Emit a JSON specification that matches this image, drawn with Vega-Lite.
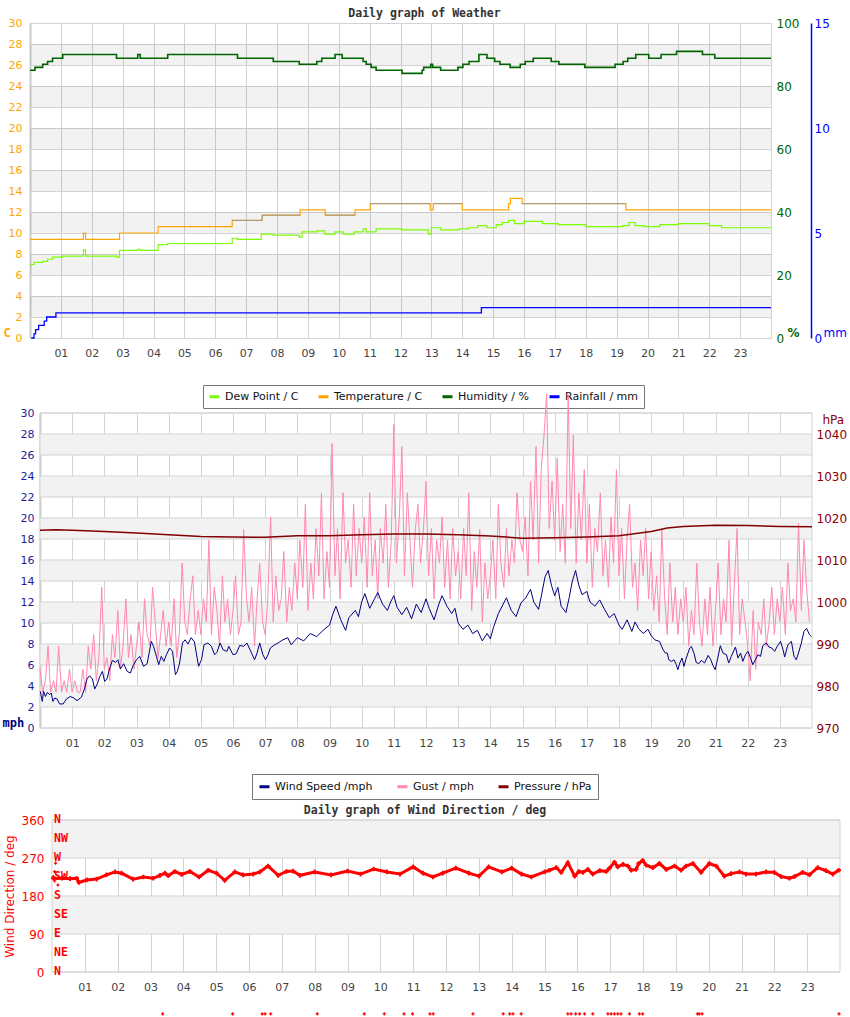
{
  "$schema": "https://vega.github.io/schema/vega-lite/v6.json",
  "padding": {"left": 2, "top": 7, "right": 0, "bottom": 0},
  "spacing": 0,
  "bounds": "flush",
  "resolve": {"scale": {"color": "independent", "x": "independent", "y": "independent"}, "legend": {"color": "independent"}},
  "config": {
    "font": "DejaVu Sans",
    "view": {"stroke": "#d3d3d3"},
    "axis": {"labelFont": "DejaVu Sans", "labelFontSize": 11, "grid": false, "ticks": false, "domain": false, "labelColor": "#444", "labelOverlap": false},
    "title": {"font": "DejaVu Sans Mono", "fontSize": 11.5, "fontWeight": "bold", "color": "#333", "offset": -2}
  },
  "datasets": {
    "bands1": [{"lo": 2, "hi": 4}, {"lo": 6, "hi": 8}, {"lo": 10, "hi": 12}, {"lo": 14, "hi": 16}, {"lo": 18, "hi": 20}, {"lo": 22, "hi": 24}, {"lo": 26, "hi": 28}],
    "grid30": [{"y":0},{"y":2},{"y":4},{"y":6},{"y":8},{"y":10},{"y":12},{"y":14},{"y":16},{"y":18},{"y":20},{"y":22},{"y":24},{"y":26},{"y":28},{"y":30}],
    "bands3": [{"lo": 90, "hi": 180}, {"lo": 270, "hi": 360}],
    "grid360": [{"y":0},{"y":90},{"y":180},{"y":270},{"y":360}],
    "compass": [{"d": 0, "t": "N"}, {"d": 45, "t": "NE"}, {"d": 90, "t": "E"}, {"d": 135, "t": "SE"}, {"d": 180, "t": "S"}, {"d": 225, "t": "SW"}, {"d": 270, "t": "W"}, {"d": 315, "t": "NW"}, {"d": 360, "t": "N"}],
    "hum": [{"h":0,"v":85.0},{"h":0.16,"v":85.9},{"h":0.41,"v":86.9},{"h":0.57,"v":87.8},{"h":0.73,"v":88.8},{"h":1.06,"v":90.0},{"h":2.80,"v":88.8},{"h":3.49,"v":90.0},{"h":3.57,"v":88.8},{"h":4.46,"v":90.0},{"h":6.72,"v":88.8},{"h":7.88,"v":87.8},{"h":8.72,"v":86.9},{"h":9.29,"v":87.8},{"h":9.45,"v":88.8},{"h":9.88,"v":90.0},{"h":10.11,"v":88.8},{"h":10.79,"v":87.8},{"h":10.89,"v":86.9},{"h":11.05,"v":85.9},{"h":11.21,"v":85.0},{"h":12.05,"v":84.0},{"h":12.70,"v":85.0},{"h":12.75,"v":85.9},{"h":12.98,"v":86.9},{"h":13.04,"v":85.9},{"h":13.30,"v":85.0},{"h":13.86,"v":85.9},{"h":14.02,"v":86.9},{"h":14.22,"v":87.8},{"h":14.54,"v":90.0},{"h":14.80,"v":88.8},{"h":15.05,"v":87.8},{"h":15.22,"v":86.9},{"h":15.55,"v":85.9},{"h":15.88,"v":86.9},{"h":16.04,"v":87.8},{"h":16.30,"v":88.8},{"h":16.88,"v":87.8},{"h":17.13,"v":86.9},{"h":17.97,"v":85.9},{"h":18.95,"v":86.9},{"h":19.21,"v":87.8},{"h":19.36,"v":88.8},{"h":19.62,"v":90.0},{"h":20.04,"v":88.8},{"h":20.44,"v":90.0},{"h":20.94,"v":91.0},{"h":21.78,"v":90.0},{"h":22.18,"v":88.8},{"h":24,"v":88.8}],
    "rain": [{"h":0.04,"v":0},{"h":0.13,"v":0.2},{"h":0.18,"v":0.4},{"h":0.28,"v":0.6},{"h":0.46,"v":0.8},{"h":0.54,"v":1.0},{"h":0.84,"v":1.2},{"h":14.62,"v":1.45},{"h":24,"v":1.45}],
    "temp": [{"h":0,"v":9.4},{"h":1.73,"v":10.0},{"h":1.80,"v":9.4},{"h":2.90,"v":10.0},{"h":4.15,"v":10.6},{"h":6.55,"v":11.2},{"h":7.52,"v":11.7},{"h":8.75,"v":12.2},{"h":9.56,"v":11.7},{"h":10.53,"v":12.2},{"h":11.02,"v":12.8},{"h":12.96,"v":12.2},{"h":13.06,"v":12.8},{"h":14.0,"v":12.2},{"h":15.5,"v":12.8},{"h":15.56,"v":13.3},{"h":15.94,"v":12.8},{"h":19.3,"v":12.2},{"h":24,"v":12.2}],
    "tempg": [{"h":6.55,"v":11.2,"s":"a"},{"h":7.52,"v":11.7,"s":"a"},{"h":8.75,"v":11.7,"s":"a"},{"h":9.56,"v":11.7,"s":"b"},{"h":10.53,"v":11.7,"s":"b"},{"h":11.02,"v":12.8,"s":"c"},{"h":12.96,"v":12.8,"s":"c"},{"h":13.06,"v":12.8,"s":"d"},{"h":14.0,"v":12.8,"s":"d"},{"h":15.94,"v":12.8,"s":"e"},{"h":19.3,"v":12.8,"s":"e"}],
    "dew": [{"h":0,"v":7.0},{"h":0.13,"v":7.2},{"h":0.41,"v":7.3},{"h":0.57,"v":7.5},{"h":0.73,"v":7.7},{"h":1.06,"v":7.8},{"h":1.73,"v":8.4},{"h":1.80,"v":7.8},{"h":2.80,"v":7.7},{"h":2.90,"v":8.35},{"h":3.49,"v":8.45},{"h":3.57,"v":8.35},{"h":4.15,"v":8.9},{"h":4.46,"v":9.0},{"h":6.55,"v":9.5},{"h":6.72,"v":9.4},{"h":7.49,"v":9.9},{"h":7.88,"v":9.8},{"h":8.72,"v":9.6},{"h":8.81,"v":10.1},{"h":9.29,"v":10.2},{"h":9.55,"v":9.9},{"h":9.88,"v":10.1},{"h":10.14,"v":9.9},{"h":10.5,"v":10.1},{"h":10.79,"v":10.4},{"h":10.89,"v":10.1},{"h":11.05,"v":10.1},{"h":11.21,"v":10.4},{"h":12.05,"v":10.3},{"h":12.9,"v":9.9},{"h":13.0,"v":10.5},{"h":13.3,"v":10.3},{"h":13.9,"v":10.4},{"h":14.2,"v":10.5},{"h":14.5,"v":10.7},{"h":14.8,"v":10.5},{"h":15.1,"v":10.8},{"h":15.3,"v":11.0},{"h":15.5,"v":11.2},{"h":15.7,"v":10.9},{"h":16.0,"v":11.1},{"h":16.6,"v":10.9},{"h":17.1,"v":10.8},{"h":18.0,"v":10.6},{"h":19.2,"v":10.7},{"h":19.4,"v":11.0},{"h":19.6,"v":10.7},{"h":19.9,"v":10.6},{"h":20.4,"v":10.8},{"h":21.0,"v":10.9},{"h":22.0,"v":10.7},{"h":22.4,"v":10.5},{"h":24,"v":10.5}],
    "pres": [{"h":0,"v":1017.1},{"h":0.5,"v":1017.2},{"h":1,"v":1017.1},{"h":2,"v":1016.8},{"h":3,"v":1016.4},{"h":4,"v":1016.0},{"h":5,"v":1015.6},{"h":6,"v":1015.5},{"h":7,"v":1015.4},{"h":8,"v":1015.8},{"h":9,"v":1015.8},{"h":10,"v":1016.0},{"h":11,"v":1016.2},{"h":12,"v":1016.2},{"h":13,"v":1016.0},{"h":14,"v":1015.7},{"h":15,"v":1015.2},{"h":16,"v":1015.3},{"h":17,"v":1015.5},{"h":18,"v":1015.8},{"h":19,"v":1016.8},{"h":19.5,"v":1017.6},{"h":20,"v":1018.0},{"h":21,"v":1018.3},{"h":22,"v":1018.2},{"h":23,"v":1018.0},{"h":24,"v":1017.9}],
    "wind": [{"h":0.01,"v":3.49},{"h":0.07,"v":2.53},{"h":0.11,"v":3.49},{"h":0.17,"v":3.0},{"h":0.23,"v":3.39},{"h":0.30,"v":3.17},{"h":0.35,"v":3.33},{"h":0.40,"v":2.53},{"h":0.46,"v":2.86},{"h":0.53,"v":2.76},{"h":0.61,"v":2.29},{"h":0.72,"v":2.29},{"h":0.82,"v":2.76},{"h":0.94,"v":3.0},{"h":1.05,"v":2.86},{"h":1.15,"v":2.6},{"h":1.29,"v":2.95},{"h":1.39,"v":3.81},{"h":1.46,"v":4.67},{"h":1.54,"v":4.98},{"h":1.63,"v":4.67},{"h":1.70,"v":3.71},{"h":1.77,"v":4.12},{"h":1.86,"v":4.91},{"h":1.94,"v":5.39},{"h":2.01,"v":4.44},{"h":2.08,"v":4.67},{"h":2.17,"v":5.71},{"h":2.25,"v":6.44},{"h":2.35,"v":6.25},{"h":2.42,"v":6.5},{"h":2.50,"v":5.62},{"h":2.60,"v":6.12},{"h":2.71,"v":5.39},{"h":2.81,"v":5.24},{"h":2.89,"v":5.93},{"h":3.0,"v":6.5},{"h":3.10,"v":6.82},{"h":3.22,"v":5.87},{"h":3.33,"v":6.12},{"h":3.46,"v":8.25},{"h":3.53,"v":7.77},{"h":3.62,"v":6.82},{"h":3.69,"v":6.03},{"h":3.77,"v":6.82},{"h":3.85,"v":6.34},{"h":3.93,"v":6.98},{"h":4.03,"v":7.62},{"h":4.12,"v":7.3},{"h":4.21,"v":5.08},{"h":4.27,"v":5.39},{"h":4.34,"v":6.19},{"h":4.43,"v":8.1},{"h":4.51,"v":8.4},{"h":4.6,"v":8.0},{"h":4.7,"v":8.6},{"h":4.8,"v":8.2},{"h":4.93,"v":5.87},{"h":5.02,"v":6.5},{"h":5.10,"v":7.93},{"h":5.22,"v":8.1},{"h":5.33,"v":7.77},{"h":5.43,"v":6.98},{"h":5.50,"v":7.2},{"h":5.6,"v":8.1},{"h":5.69,"v":7.46},{"h":5.81,"v":7.3},{"h":5.87,"v":7.77},{"h":6.0,"v":6.98},{"h":6.1,"v":7.07},{"h":6.21,"v":7.87},{"h":6.33,"v":7.77},{"h":6.43,"v":8.1},{"h":6.52,"v":7.52},{"h":6.60,"v":6.98},{"h":6.67,"v":6.5},{"h":6.75,"v":7.14},{"h":6.83,"v":8.1},{"h":6.93,"v":6.98},{"h":7.01,"v":6.5},{"h":7.09,"v":6.98},{"h":7.16,"v":7.62},{"h":7.30,"v":7.93},{"h":7.40,"v":8.1},{"h":7.55,"v":8.4},{"h":7.7,"v":8.6},{"h":7.81,"v":7.93},{"h":8.0,"v":8.6},{"h":8.2,"v":8.3},{"h":8.4,"v":9.0},{"h":8.6,"v":8.7},{"h":8.8,"v":9.3},{"h":9.0,"v":9.8},{"h":9.1,"v":10.8},{"h":9.2,"v":11.6},{"h":9.35,"v":10.3},{"h":9.5,"v":9.3},{"h":9.6,"v":10.5},{"h":9.8,"v":11.2},{"h":9.9,"v":10.6},{"h":10.0,"v":12.0},{"h":10.1,"v":12.8},{"h":10.25,"v":11.4},{"h":10.4,"v":12.3},{"h":10.5,"v":12.9},{"h":10.65,"v":11.8},{"h":10.8,"v":11.2},{"h":10.9,"v":12.0},{"h":11.0,"v":12.6},{"h":11.1,"v":11.5},{"h":11.25,"v":10.8},{"h":11.4,"v":11.5},{"h":11.55,"v":10.4},{"h":11.7,"v":11.8},{"h":11.85,"v":11.0},{"h":12.0,"v":12.3},{"h":12.1,"v":11.4},{"h":12.25,"v":10.3},{"h":12.4,"v":11.8},{"h":12.5,"v":12.6},{"h":12.65,"v":11.6},{"h":12.8,"v":10.9},{"h":12.9,"v":11.4},{"h":13.0,"v":10.0},{"h":13.15,"v":9.4},{"h":13.3,"v":9.8},{"h":13.45,"v":9.0},{"h":13.6,"v":9.3},{"h":13.75,"v":8.3},{"h":13.9,"v":9.0},{"h":14.0,"v":8.5},{"h":14.1,"v":9.6},{"h":14.25,"v":10.9},{"h":14.4,"v":11.8},{"h":14.5,"v":12.4},{"h":14.65,"v":11.2},{"h":14.8,"v":10.6},{"h":14.95,"v":11.9},{"h":15.1,"v":12.4},{"h":15.25,"v":13.2},{"h":15.35,"v":12.0},{"h":15.5,"v":11.3},{"h":15.6,"v":12.8},{"h":15.7,"v":14.4},{"h":15.8,"v":15.0},{"h":15.9,"v":13.6},{"h":16.0,"v":12.6},{"h":16.1,"v":13.4},{"h":16.2,"v":11.6},{"h":16.35,"v":11.0},{"h":16.45,"v":12.4},{"h":16.55,"v":14.0},{"h":16.65,"v":15.0},{"h":16.75,"v":13.6},{"h":16.85,"v":12.7},{"h":17.0,"v":13.0},{"h":17.1,"v":12.0},{"h":17.25,"v":11.6},{"h":17.4,"v":12.2},{"h":17.55,"v":11.3},{"h":17.7,"v":10.5},{"h":17.85,"v":10.9},{"h":18.0,"v":9.8},{"h":18.1,"v":9.4},{"h":18.25,"v":10.3},{"h":18.4,"v":9.2},{"h":18.5,"v":10.1},{"h":18.6,"v":9.5},{"h":18.75,"v":9.0},{"h":18.9,"v":9.4},{"h":19.0,"v":8.8},{"h":19.11,"v":8.4},{"h":19.26,"v":8.25},{"h":19.37,"v":7.46},{"h":19.44,"v":7.14},{"h":19.50,"v":7.14},{"h":19.55,"v":6.5},{"h":19.63,"v":6.34},{"h":19.71,"v":6.5},{"h":19.78,"v":6.03},{"h":19.83,"v":5.55},{"h":19.89,"v":6.19},{"h":19.96,"v":6.66},{"h":20.02,"v":5.87},{"h":20.09,"v":6.66},{"h":20.2,"v":7.62},{"h":20.25,"v":7.77},{"h":20.33,"v":7.14},{"h":20.40,"v":6.25},{"h":20.48,"v":6.12},{"h":20.56,"v":6.44},{"h":20.66,"v":6.19},{"h":20.77,"v":6.91},{"h":20.85,"v":6.53},{"h":20.92,"v":5.96},{"h":20.99,"v":5.55},{"h":21.07,"v":6.66},{"h":21.15,"v":7.84},{"h":21.23,"v":7.14},{"h":21.34,"v":6.98},{"h":21.41,"v":6.19},{"h":21.49,"v":6.82},{"h":21.62,"v":7.71},{"h":21.70,"v":6.66},{"h":21.78,"v":7.14},{"h":21.85,"v":6.34},{"h":21.93,"v":6.98},{"h":22.01,"v":7.3},{"h":22.09,"v":6.66},{"h":22.16,"v":6.03},{"h":22.24,"v":6.5},{"h":22.32,"v":6.98},{"h":22.40,"v":6.82},{"h":22.47,"v":7.84},{"h":22.58,"v":8.1},{"h":22.66,"v":7.71},{"h":22.75,"v":7.62},{"h":22.84,"v":7.3},{"h":22.92,"v":7.78},{"h":23.02,"v":8.25},{"h":23.10,"v":7.46},{"h":23.15,"v":6.76},{"h":23.25,"v":7.93},{"h":23.36,"v":8.25},{"h":23.44,"v":6.82},{"h":23.51,"v":6.5},{"h":23.58,"v":7.14},{"h":23.67,"v":8.1},{"h":23.75,"v":9.2},{"h":23.83,"v":9.5},{"h":23.92,"v":8.9},{"h":23.98,"v":8.7}],
    "gust": [
      {"h":0,"v":5.6},{"h":0.08,"v":3.4},{"h":0.17,"v":4.5},{"h":0.25,"v":7.8},{"h":0.33,"v":3.4},{"h":0.42,"v":4.5},{"h":0.5,"v":3.4},{"h":0.58,"v":7.8},{"h":0.67,"v":3.4},{"h":0.75,"v":4.5},{"h":0.83,"v":3.4},{"h":0.92,"v":5.6},
      {"h":1,"v":3.4},{"h":1.08,"v":4.5},{"h":1.17,"v":3.4},{"h":1.25,"v":3.4},{"h":1.33,"v":5.6},{"h":1.42,"v":3.4},{"h":1.5,"v":7.8},{"h":1.58,"v":5.6},{"h":1.67,"v":8.9},{"h":1.75,"v":4.5},{"h":1.83,"v":6.7},{"h":1.92,"v":13.4},
      {"h":2,"v":5.6},{"h":2.08,"v":6.7},{"h":2.17,"v":4.5},{"h":2.25,"v":8.9},{"h":2.33,"v":6.7},{"h":2.42,"v":11.2},{"h":2.5,"v":5.6},{"h":2.58,"v":7.8},{"h":2.67,"v":12.3},{"h":2.75,"v":6.7},{"h":2.83,"v":8.9},{"h":2.92,"v":5.6},
      {"h":3,"v":7.8},{"h":3.08,"v":10.1},{"h":3.17,"v":6.7},{"h":3.25,"v":12.3},{"h":3.33,"v":8.9},{"h":3.42,"v":7.8},{"h":3.5,"v":13.4},{"h":3.58,"v":10.1},{"h":3.67,"v":6.7},{"h":3.75,"v":8.9},{"h":3.83,"v":11.2},{"h":3.92,"v":7.8},
      {"h":4,"v":10.1},{"h":4.08,"v":7.8},{"h":4.17,"v":12.3},{"h":4.25,"v":6.7},{"h":4.33,"v":8.9},{"h":4.42,"v":15.7},{"h":4.5,"v":10.1},{"h":4.58,"v":8.9},{"h":4.67,"v":12.3},{"h":4.75,"v":14.5},{"h":4.83,"v":8.9},{"h":4.92,"v":11.2},
      {"h":5,"v":8.9},{"h":5.08,"v":12.3},{"h":5.17,"v":10.1},{"h":5.25,"v":17.9},{"h":5.33,"v":8.9},{"h":5.42,"v":13.4},{"h":5.5,"v":11.2},{"h":5.58,"v":7.8},{"h":5.67,"v":14.5},{"h":5.75,"v":10.1},{"h":5.83,"v":12.3},{"h":5.92,"v":8.9},
      {"h":6,"v":11.2},{"h":6.08,"v":14.5},{"h":6.17,"v":8.9},{"h":6.25,"v":10.1},{"h":6.33,"v":18.9},{"h":6.42,"v":12.3},{"h":6.5,"v":10.1},{"h":6.58,"v":13.4},{"h":6.67,"v":7.8},{"h":6.75,"v":12.3},{"h":6.83,"v":15.7},{"h":6.92,"v":10.1},
      {"h":7,"v":8.9},{"h":7.08,"v":12.3},{"h":7.17,"v":20.1},{"h":7.25,"v":10.1},{"h":7.33,"v":14.5},{"h":7.42,"v":11.2},{"h":7.5,"v":12.3},{"h":7.58,"v":16.8},{"h":7.67,"v":10.1},{"h":7.75,"v":13.4},{"h":7.83,"v":11.2},{"h":7.92,"v":15.7},
      {"h":8,"v":12.3},{"h":8.08,"v":17.9},{"h":8.17,"v":13.4},{"h":8.25,"v":21.3},{"h":8.33,"v":11.2},{"h":8.42,"v":15.7},{"h":8.5,"v":12.3},{"h":8.58,"v":19.0},{"h":8.67,"v":14.5},{"h":8.75,"v":22.4},{"h":8.83,"v":12.3},{"h":8.92,"v":16.8},
      {"h":9,"v":13.4},{"h":9.08,"v":27.1},{"h":9.17,"v":14.5},{"h":9.25,"v":19.0},{"h":9.33,"v":12.3},{"h":9.42,"v":22.4},{"h":9.5,"v":15.7},{"h":9.58,"v":17.9},{"h":9.67,"v":13.4},{"h":9.75,"v":21.3},{"h":9.83,"v":14.5},{"h":9.92,"v":19.0},
      {"h":10,"v":15.7},{"h":10.08,"v":20.1},{"h":10.17,"v":13.4},{"h":10.25,"v":22.4},{"h":10.33,"v":14.5},{"h":10.42,"v":17.9},{"h":10.5,"v":12.3},{"h":10.58,"v":19.0},{"h":10.67,"v":15.7},{"h":10.75,"v":21.3},{"h":10.83,"v":13.4},{"h":10.92,"v":17.9},
      {"h":11,"v":28.9},{"h":11.08,"v":15.7},{"h":11.17,"v":20.1},{"h":11.25,"v":26.8},{"h":11.33,"v":14.5},{"h":11.42,"v":22.4},{"h":11.5,"v":17.9},{"h":11.58,"v":13.4},{"h":11.67,"v":19.0},{"h":11.75,"v":21.3},{"h":11.83,"v":15.7},{"h":11.92,"v":18.9},
      {"h":12,"v":23.5},{"h":12.08,"v":14.5},{"h":12.17,"v":19.0},{"h":12.25,"v":12.3},{"h":12.33,"v":17.9},{"h":12.42,"v":15.7},{"h":12.5,"v":20.1},{"h":12.58,"v":13.4},{"h":12.67,"v":17.9},{"h":12.75,"v":12.3},{"h":12.83,"v":19.0},{"h":12.92,"v":14.5},
      {"h":13,"v":16.8},{"h":13.08,"v":12.3},{"h":13.17,"v":19.0},{"h":13.25,"v":14.5},{"h":13.33,"v":22.4},{"h":13.42,"v":11.2},{"h":13.5,"v":16.8},{"h":13.58,"v":13.4},{"h":13.67,"v":18.9},{"h":13.75,"v":10.1},{"h":13.83,"v":15.7},{"h":13.92,"v":12.3},
      {"h":14,"v":14.5},{"h":14.08,"v":17.9},{"h":14.17,"v":12.3},{"h":14.25,"v":21.3},{"h":14.33,"v":15.7},{"h":14.42,"v":13.4},{"h":14.5,"v":19.0},{"h":14.58,"v":14.5},{"h":14.67,"v":17.9},{"h":14.75,"v":15.7},{"h":14.83,"v":22.4},{"h":14.92,"v":17.9},
      {"h":15,"v":16.8},{"h":15.08,"v":20.1},{"h":15.17,"v":14.5},{"h":15.25,"v":23.5},{"h":15.33,"v":17.9},{"h":15.42,"v":26.8},{"h":15.5,"v":15.7},{"h":15.58,"v":24.6},{"h":15.67,"v":27.9},{"h":15.75,"v":31.8},{"h":15.83,"v":19.0},{"h":15.92,"v":23.5},
      {"h":16,"v":17.9},{"h":16.08,"v":25.7},{"h":16.17,"v":16.8},{"h":16.25,"v":21.3},{"h":16.33,"v":15.7},{"h":16.42,"v":31.8},{"h":16.5,"v":19.0},{"h":16.58,"v":27.9},{"h":16.67,"v":15.7},{"h":16.75,"v":22.4},{"h":16.83,"v":17.9},{"h":16.92,"v":24.6},
      {"h":17,"v":15.7},{"h":17.08,"v":21.3},{"h":17.17,"v":13.4},{"h":17.25,"v":19.0},{"h":17.33,"v":16.8},{"h":17.42,"v":22.4},{"h":17.5,"v":14.5},{"h":17.58,"v":17.9},{"h":17.67,"v":13.4},{"h":17.75,"v":20.1},{"h":17.83,"v":15.7},{"h":17.92,"v":24.6},
      {"h":18,"v":14.5},{"h":18.08,"v":19.0},{"h":18.17,"v":12.3},{"h":18.25,"v":17.9},{"h":18.33,"v":21.3},{"h":18.42,"v":13.4},{"h":18.5,"v":15.7},{"h":18.58,"v":11.2},{"h":18.67,"v":17.9},{"h":18.75,"v":14.5},{"h":18.83,"v":19.0},{"h":18.92,"v":12.3},
      {"h":19,"v":16.8},{"h":19.08,"v":11.2},{"h":19.17,"v":14.5},{"h":19.25,"v":10.1},{"h":19.33,"v":18.9},{"h":19.42,"v":12.3},{"h":19.5,"v":8.9},{"h":19.58,"v":15.7},{"h":19.67,"v":10.1},{"h":19.75,"v":13.4},{"h":19.83,"v":8.9},{"h":19.92,"v":12.3},
      {"h":20,"v":10.1},{"h":20.08,"v":13.4},{"h":20.17,"v":7.8},{"h":20.25,"v":11.2},{"h":20.33,"v":8.9},{"h":20.42,"v":15.7},{"h":20.5,"v":10.1},{"h":20.58,"v":7.8},{"h":20.67,"v":12.3},{"h":20.75,"v":8.9},{"h":20.83,"v":13.4},{"h":20.92,"v":7.8},
      {"h":21,"v":11.2},{"h":21.08,"v":15.7},{"h":21.17,"v":8.9},{"h":21.25,"v":12.3},{"h":21.33,"v":10.1},{"h":21.42,"v":17.9},{"h":21.5,"v":7.8},{"h":21.58,"v":13.4},{"h":21.67,"v":19.0},{"h":21.75,"v":8.9},{"h":21.83,"v":12.3},{"h":21.92,"v":10.1},
      {"h":22,"v":7.8},{"h":22.08,"v":4.5},{"h":22.17,"v":11.2},{"h":22.25,"v":5.6},{"h":22.33,"v":10.1},{"h":22.42,"v":8.9},{"h":22.5,"v":12.3},{"h":22.58,"v":7.8},{"h":22.67,"v":10.1},{"h":22.75,"v":13.4},{"h":22.83,"v":8.9},{"h":22.92,"v":12.3},
      {"h":23,"v":10.1},{"h":23.08,"v":13.4},{"h":23.17,"v":8.9},{"h":23.25,"v":15.7},{"h":23.33,"v":11.2},{"h":23.42,"v":12.3},{"h":23.5,"v":10.1},{"h":23.58,"v":19.5},{"h":23.67,"v":11.2},{"h":23.75,"v":17.9},{"h":23.83,"v":13.4},{"h":23.92,"v":10.1}],
    "dir": [{"h":0.04,"v":222},{"h":0.3,"v":222},{"h":0.55,"v":221},{"h":0.75,"v":222},{"h":0.82,"v":212},{"h":1.06,"v":218},{"h":1.36,"v":220},{"h":1.66,"v":230},{"h":1.92,"v":237},{"h":2.12,"v":234},{"h":2.47,"v":220},{"h":2.78,"v":225},{"h":3.08,"v":222},{"h":3.29,"v":229},{"h":3.44,"v":234},{"h":3.54,"v":228},{"h":3.74,"v":238},{"h":3.95,"v":231},{"h":4.20,"v":238},{"h":4.48,"v":225},{"h":4.76,"v":241},{"h":5.01,"v":234},{"h":5.26,"v":217},{"h":5.57,"v":237},{"h":5.82,"v":230},{"h":6.13,"v":232},{"h":6.33,"v":237},{"h":6.58,"v":251},{"h":6.89,"v":229},{"h":7.14,"v":238},{"h":7.34,"v":239},{"h":7.55,"v":229},{"h":8.0,"v":237},{"h":8.5,"v":230},{"h":9.0,"v":239},{"h":9.4,"v":232},{"h":9.8,"v":244},{"h":10.2,"v":237},{"h":10.6,"v":232},{"h":11.0,"v":249},{"h":11.3,"v":234},{"h":11.6,"v":225},{"h":11.9,"v":234},{"h":12.3,"v":246},{"h":12.7,"v":234},{"h":13.0,"v":227},{"h":13.3,"v":249},{"h":13.7,"v":237},{"h":14.0,"v":246},{"h":14.3,"v":232},{"h":14.6,"v":225},{"h":15.0,"v":237},{"h":15.15,"v":241},{"h":15.36,"v":247},{"h":15.51,"v":236},{"h":15.71,"v":259},{"h":15.92,"v":227},{"h":16.05,"v":238},{"h":16.17,"v":236},{"h":16.32,"v":243},{"h":16.47,"v":232},{"h":16.68,"v":240},{"h":16.88,"v":238},{"h":16.98,"v":246},{"h":17.13,"v":260},{"h":17.23,"v":249},{"h":17.39,"v":255},{"h":17.54,"v":251},{"h":17.64,"v":241},{"h":17.79,"v":243},{"h":17.87,"v":257},{"h":17.99,"v":264},{"h":18.10,"v":253},{"h":18.30,"v":247},{"h":18.50,"v":257},{"h":18.71,"v":243},{"h":18.96,"v":251},{"h":19.16,"v":241},{"h":19.31,"v":251},{"h":19.52,"v":257},{"h":19.77,"v":236},{"h":20.02,"v":257},{"h":20.23,"v":251},{"h":20.48,"v":227},{"h":20.68,"v":233},{"h":20.94,"v":237},{"h":21.14,"v":232},{"h":21.44,"v":232},{"h":21.75,"v":237},{"h":22.00,"v":236},{"h":22.21,"v":226},{"h":22.46,"v":222},{"h":22.61,"v":226},{"h":22.86,"v":236},{"h":23.07,"v":230},{"h":23.32,"v":247},{"h":23.57,"v":240},{"h":23.78,"v":232},{"h":23.96,"v":241}],
    "dirx": [{"h":3.37,"v":-99},{"h":5.50,"v":-99},{"h":6.40,"v":-99},{"h":6.49,"v":-99},{"h":6.66,"v":-99},{"h":8.08,"v":-99},{"h":9.51,"v":-99},{"h":10.12,"v":-99},{"h":10.72,"v":-99},{"h":10.98,"v":-99},{"h":11.51,"v":-99},{"h":11.61,"v":-99},{"h":12.82,"v":-99},{"h":13.74,"v":-99},{"h":13.94,"v":-99},{"h":14.04,"v":-99},{"h":14.29,"v":-99},{"h":15.71,"v":-99},{"h":15.81,"v":-99},{"h":15.95,"v":-99},{"h":16.07,"v":-99},{"h":16.22,"v":-99},{"h":16.47,"v":-99},{"h":16.93,"v":-99},{"h":17.03,"v":-99},{"h":17.13,"v":-99},{"h":17.23,"v":-99},{"h":17.33,"v":-99},{"h":17.59,"v":-99},{"h":17.89,"v":-99},{"h":17.99,"v":-99},{"h":19.66,"v":-99},{"h":19.71,"v":-99},{"h":19.80,"v":-99},{"h":23.97,"v":-99},{"h":0.11,"v":258},{"h":0.08,"v":238},{"h":0.04,"v":226},{"h":0.08,"v":216},{"h":0.18,"v":206}]
  },
  "vconcat": [
    {
      "width": 741, "height": 315,
      "title": {"text": "Daily graph of Weather", "dx": 24},
      "resolve": {"scale": {"y": "independent"}},
      "layer": [
        {
          "layer": [
            {"data": {"name": "bands1"}, "mark": {"type": "rect", "fill": "#000", "fillOpacity": 0.05},
             "encoding": {
               "y": {"field": "lo", "type": "quantitative", "scale": {"domain": [0, 30], "nice": false, "zero": false},
                     "axis": {"orient": "left", "values": [0,2,4,6,8,10,12,14,16,18,20,22,24,26,28,30], "format": "d", "tickCount": 100, "labelOverlap": false, "grid": true, "gridColor": "#d3d3d3", "domain": true, "domainColor": "#cccccc", "domainWidth": 2, "labelColor": "#ffa500", "labelPadding": 8, "title": "C", "titleAngle": 0, "titleColor": "#ffa500", "titleFont": "DejaVu Sans Mono", "titleFontWeight": "bold", "titleFontSize": 12, "titleX": -27, "titleY": 313, "titleAlign": "left", "titleBaseline": "alphabetic"}},
               "y2": {"field": "hi"}}},
            {"data": {"name": "dew"}, "mark": {"type": "line", "interpolate": "step-after", "strokeWidth": 1.2},
             "encoding": {
               "x": {"field": "h", "type": "quantitative", "scale": {"domain": [0, 24], "nice": false, "zero": false}, "title": null,
                     "axis": {"values": [1,2,3,4,5,6,7,8,9,10,11,12,13,14,15,16,17,18,19,20,21,22,23], "tickCount": 100, "labelOverlap": false, "labelExpr": "datum.value < 10 ? '0' + datum.value : '' + datum.value", "grid": true, "gridColor": "#d3d3d3", "labelPadding": 9, "labelColor": "#444", "title": null}},
               "y": {"field": "v", "type": "quantitative"},
               "color": {"datum": "Dew Point / C", "type": "nominal",
                         "scale": {"domain": ["Dew Point / C", "Temperature / C", "Humidity / %", "Rainfall / mm"], "range": ["#7cfc00", "#ffa500", "#006400", "#0000ff"]},
                         "legend": {"orient": "none", "legendX": 173, "legendY": 362, "direction": "horizontal", "title": null, "symbolType": "stroke", "symbolStrokeWidth": 3, "symbolSize": 100, "strokeColor": "#777", "fillColor": "white", "padding": 5, "labelFontSize": 11, "labelFont": "DejaVu Sans", "labelColor": "#111", "columnPadding": 13}}}},
            {"data": {"name": "temp"}, "mark": {"type": "line", "interpolate": "step-after", "strokeWidth": 1.2},
             "encoding": {
               "x": {"field": "h", "type": "quantitative", "title": null},
               "y": {"field": "v", "type": "quantitative"},
               "color": {"datum": "Temperature / C", "type": "nominal"}}},
            {"data": {"name": "tempg"}, "mark": {"type": "line", "interpolate": "step-after", "strokeWidth": 1, "color": "#9a9a9a"},
             "encoding": {
               "x": {"field": "h", "type": "quantitative", "title": null},
               "y": {"field": "v", "type": "quantitative"},
               "detail": {"field": "s"}}}
          ]
        },
        {"data": {"name": "hum"}, "mark": {"type": "line", "interpolate": "step-after", "strokeWidth": 1.6},
         "encoding": {
           "x": {"field": "h", "type": "quantitative", "title": null},
           "y": {"field": "v", "type": "quantitative", "scale": {"domain": [0, 100], "nice": false, "zero": false},
                 "axis": {"orient": "right", "values": [0,20,40,60,80,100], "format": "d", "tickCount": 100, "labelOverlap": false, "labelColor": "#006400", "labelPadding": 5, "labelFontSize": 12, "title": "%", "titleAngle": 0, "titleColor": "#006400", "titleFontWeight": "bold", "titleFontSize": 12, "titleX": 16, "titleY": 313, "titleAlign": "left", "titleBaseline": "alphabetic"}},
           "color": {"datum": "Humidity / %", "type": "nominal"}}},
        {"data": {"name": "rain"}, "mark": {"type": "line", "interpolate": "step-after", "strokeWidth": 1.3},
         "encoding": {
           "x": {"field": "h", "type": "quantitative", "title": null},
           "y": {"field": "v", "type": "quantitative", "scale": {"domain": [0, 15], "nice": false, "zero": false},
                 "axis": {"orient": "right", "offset": 40, "values": [0,5,10,15], "format": "d", "tickCount": 100, "labelOverlap": false, "domain": true, "domainColor": "#0000ff", "domainWidth": 1.5, "labelColor": "#0000ff", "labelPadding": 3, "labelFontSize": 12, "title": "mm", "titleAngle": 0, "titleColor": "#0000ff", "titleFontWeight": "normal", "titleFontSize": 12, "titleX": 12, "titleY": 313, "titleAlign": "left", "titleBaseline": "alphabetic"}},
           "color": {"datum": "Rainfall / mm", "type": "nominal"}}}
      ]
    },
    {"width": 1, "height": 75, "data": {"values": [{}]}, "mark": {"type": "point", "opacity": 0}, "view": {"stroke": null}},
    {
      "width": 782, "height": 315,
      "view": {"stroke": null},
      "resolve": {"scale": {"y": "independent"}},
      "layer": [
        {
          "layer": [
            {"data": {"name": "bands1"}, "mark": {"type": "rect", "fill": "#f2f2f2"},
             "encoding": {
               "x": {"datum": 0, "type": "quantitative"},
               "x2": {"datum": 24},
               "y": {"field": "lo", "type": "quantitative", "scale": {"domain": [0, 30], "nice": false, "zero": false},
                     "axis": {"orient": "left", "offset": -10, "values": [0,2,4,6,8,10,12,14,16,18,20,22,24,26,28,30], "format": "d", "tickCount": 100, "labelOverlap": false, "domain": true, "domainColor": "#cccccc", "domainWidth": 2, "labelColor": "#1e1e96", "labelPadding": 6, "title": "mph", "titleAngle": 0, "titleColor": "#000080", "titleFont": "DejaVu Sans Mono", "titleFontWeight": "bold", "titleFontSize": 12, "titleX": -38, "titleY": 313, "titleAlign": "left", "titleBaseline": "alphabetic"}},
               "y2": {"field": "hi"}}},
            {"data": {"name": "grid30"}, "mark": {"type": "rule", "color": "#d3d3d3", "strokeWidth": 1},
             "encoding": {
               "x": {"datum": 0, "type": "quantitative"},
               "x2": {"datum": 24},
               "y": {"field": "y", "type": "quantitative"}}},
            {"data": {"values": [{}]}, "mark": {"type": "rect", "fill": null, "stroke": "#d3d3d3", "strokeWidth": 1},
             "encoding": {
               "x": {"datum": 0, "type": "quantitative"},
               "x2": {"datum": 24},
               "y": {"datum": 0, "type": "quantitative"},
               "y2": {"datum": 30}}},
            {"data": {"name": "gust"}, "mark": {"type": "line", "strokeWidth": 1, "clip": false},
             "encoding": {
               "x": {"field": "h", "type": "quantitative", "scale": {"domain": [0, 24], "nice": false, "zero": false, "rangeMin": 10}, "title": null,
                     "axis": {"values": [1,2,3,4,5,6,7,8,9,10,11,12,13,14,15,16,17,18,19,20,21,22,23], "tickCount": 100, "labelOverlap": false, "labelExpr": "datum.value < 10 ? '0' + datum.value : '' + datum.value", "grid": true, "gridColor": "#d3d3d3", "labelPadding": 9, "labelColor": "#444", "title": null}},
               "y": {"field": "v", "type": "quantitative"},
               "color": {"datum": "Gust / mph", "type": "nominal",
                         "scale": {"domain": ["Wind Speed /mph", "Gust / mph", "Pressure / hPa"], "range": ["#000080", "#ff88b0", "#800000"]},
                         "legend": {"orient": "none", "legendX": 222, "legendY": 361, "direction": "horizontal", "title": null, "symbolType": "stroke", "symbolStrokeWidth": 3, "symbolSize": 100, "strokeColor": "#777", "fillColor": "white", "padding": 6, "labelFontSize": 11, "labelFont": "DejaVu Sans", "labelColor": "#111", "columnPadding": 18}}}},
            {"data": {"name": "wind"}, "mark": {"type": "line", "strokeWidth": 1},
             "encoding": {
               "x": {"field": "h", "type": "quantitative", "title": null},
               "y": {"field": "v", "type": "quantitative"},
               "color": {"datum": "Wind Speed /mph", "type": "nominal"}}}
          ]
        },
        {"data": {"name": "pres"}, "mark": {"type": "line", "strokeWidth": 1.5},
         "encoding": {
           "x": {"field": "h", "type": "quantitative", "title": null},
           "y": {"field": "v", "type": "quantitative", "scale": {"domain": [970, 1045], "nice": false, "zero": false},
                 "axis": {"orient": "right", "values": [970,980,990,1000,1010,1020,1030,1040], "tickCount": 100, "labelOverlap": false, "format": "d", "labelColor": "#8b0000", "labelPadding": 4, "labelFontSize": 12, "title": "hPa", "titleAngle": 0, "titleColor": "#8b0000", "titleFontWeight": "normal", "titleFontSize": 12, "titleX": 10, "titleY": 10, "titleAlign": "left", "titleBaseline": "alphabetic"}},
           "color": {"datum": "Pressure / hPa", "type": "nominal"}}}
      ]
    },
    {"width": 1, "height": 92, "data": {"values": [{}]}, "mark": {"type": "point", "opacity": 0}, "view": {"stroke": null}},
    {
      "width": 810, "height": 152,
      "view": {"stroke": null},
      "title": {"text": "Daily graph of Wind Direction / deg", "dx": -10},
      "layer": [
        {"data": {"name": "bands3"}, "mark": {"type": "rect", "fill": "#f2f2f2"},
         "encoding": {
           "x": {"datum": 0, "type": "quantitative"},
           "x2": {"datum": 24},
           "y": {"field": "lo", "type": "quantitative", "scale": {"domain": [0, 360], "nice": false, "zero": false},
                 "axis": {"orient": "left", "offset": -22, "values": [0, 90, 180, 270, 360], "format": "d", "tickCount": 100, "labelOverlap": false, "labelColor": "#ff0000", "labelPadding": 8, "labelFontSize": 12, "title": "Wind Direction / deg", "titleColor": "#ff0000", "titleFont": "DejaVu Sans", "titleFontWeight": "normal", "titleFontSize": 12, "titleAngle": 270, "titleX": -43, "titleY": 76, "titleAlign": "center", "titleBaseline": "middle"}},
           "y2": {"field": "hi"}}},
        {"data": {"name": "grid360"}, "mark": {"type": "rule", "color": "#d3d3d3", "strokeWidth": 1},
         "encoding": {
           "x": {"datum": 0, "type": "quantitative"},
           "x2": {"datum": 24},
           "y": {"field": "y", "type": "quantitative"}}},
        {"data": {"values": [{}]}, "mark": {"type": "rect", "fill": null, "stroke": "#d3d3d3", "strokeWidth": 1},
         "encoding": {
           "x": {"datum": 0, "type": "quantitative"},
           "x2": {"datum": 24},
           "y": {"datum": 0, "type": "quantitative"},
           "y2": {"datum": 360}}},
        {"data": {"name": "dir"}, "mark": {"type": "line", "color": "#ff0000", "strokeWidth": 3},
         "encoding": {
           "x": {"field": "h", "type": "quantitative", "scale": {"domain": [0, 24], "nice": false, "zero": false, "rangeMin": 22}, "title": null,
                 "axis": {"values": [1,2,3,4,5,6,7,8,9,10,11,12,13,14,15,16,17,18,19,20,21,22,23], "tickCount": 100, "labelOverlap": false, "labelExpr": "datum.value < 10 ? '0' + datum.value : '' + datum.value", "grid": true, "gridColor": "#d3d3d3", "labelPadding": 9, "labelColor": "#444", "title": "Graph for: 20th February 2025; Load time: 0.13 s", "titleFont": "DejaVu Sans", "titleFontWeight": "normal", "titleFontSize": 12, "titleColor": "#000", "titlePadding": 4, "titleX": 390}},
           "y": {"field": "v", "type": "quantitative"}}},
        {"data": {"name": "dir"}, "mark": {"type": "point", "shape": "cross", "filled": true, "color": "#ff0000", "size": 22, "opacity": 1},
         "encoding": {
           "x": {"field": "h", "type": "quantitative", "title": null},
           "y": {"field": "v", "type": "quantitative"}}},
        {"data": {"name": "dirx"}, "mark": {"type": "point", "shape": "cross", "filled": true, "color": "#ff0000", "size": 10, "opacity": 1, "clip": false},
         "encoding": {
           "x": {"field": "h", "type": "quantitative", "title": null},
           "y": {"field": "v", "type": "quantitative"}}},
        {"data": {"name": "compass"}, "mark": {"type": "text", "align": "left", "baseline": "middle", "dx": 2, "font": "DejaVu Sans Mono", "fontWeight": "bold", "fontSize": 11.5, "color": "#ff0000"},
         "encoding": {
           "x": {"datum": 0, "type": "quantitative"},
           "y": {"field": "d", "type": "quantitative"},
           "text": {"field": "t"}}}
      ]
    }
  ]
}
